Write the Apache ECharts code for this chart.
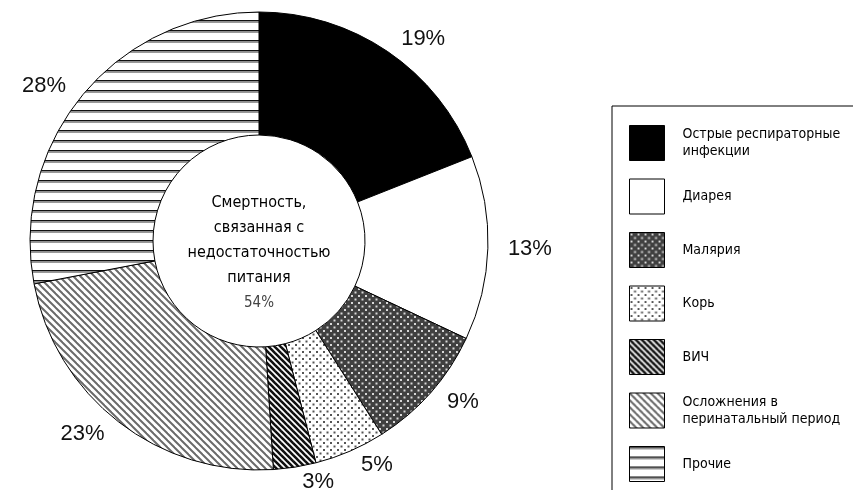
<!DOCTYPE html>
<html>
<head>
<meta charset="utf-8">
<script src="https://cdn.jsdelivr.net/npm/echarts@6/dist/echarts.min.js"></script>
<style>
  html, body { margin: 0; padding: 0; background: #fff; }
  #chart { width: 853px; height: 490px; }
</style>
</head>
<body>
<div id="chart"></div>
<script>
const causes = [
  "Острые респираторные\nинфекции",
  "Диарея",
  "Малярия",
  "Корь",
  "ВИЧ",
  "Осложнения в\nперинатальный период",
  "Прочие",
];
const shares = [19, 13, 9, 5, 3, 23, 28];
const centerLines = ["Смертность,", "связанная с", "недостаточностью", "питания"];
const centerShare = "54%";

const narrow = "'DejaVu Sans Condensed', 'Liberation Sans Narrow', 'Liberation Sans', sans-serif";
const cx = 259;
const cy = 241;

function tile(size, draw) {
  const canvas = document.createElement("canvas");
  canvas.width = size;
  canvas.height = size;
  const ctx = canvas.getContext("2d");
  draw(ctx, size);
  return { image: canvas, repeat: "repeat" };
}

function dots(bg, dot) {
  return tile(7, (ctx, p) => {
    ctx.fillStyle = bg;
    ctx.fillRect(0, 0, p, p);
    ctx.fillStyle = dot;
    ctx.fillRect(1, 1, 2, 2);
    ctx.fillRect(4.5, 4.5, 2, 2);
  });
}

function diagonal(size, color, width) {
  return tile(size, (ctx, p) => {
    ctx.fillStyle = "#fff";
    ctx.fillRect(0, 0, p, p);
    ctx.strokeStyle = color;
    ctx.lineWidth = width;
    for (let k = -1; k <= 1; k += 1) {
      ctx.beginPath();
      ctx.moveTo(k * p - 1, -1);
      ctx.lineTo(k * p + p + 1, p + 1);
      ctx.stroke();
    }
  });
}

const horizontal = tile(10, (ctx, p) => {
  ctx.fillStyle = "#fff";
  ctx.fillRect(0, 0, p, p);
  ctx.fillStyle = "#111";
  ctx.fillRect(0, 0, p, 1.5);
  ctx.fillStyle = "#999";
  ctx.fillRect(0, 1.5, p, 1.5);
});

const fills = [
  "#000",
  "#fff",
  dots("#404040", "#d8d8d8"),
  dots("#fff", "#555"),
  diagonal(6, "#111", 2.6),
  diagonal(7, "#6a6a6a", 2),
  horizontal,
];

const chart = echarts.init(document.getElementById("chart"), null, { renderer: "canvas" });

chart.setOption({
  animation: false,
  backgroundColor: "#fff",
  legend: {
    orient: "vertical",
    left: 629,
    top: 125,
    padding: 0,
    itemWidth: 35,
    itemHeight: 35,
    itemGap: 17.5,
    selectedMode: false,
    icon: "rect",
    itemStyle: { borderColor: "#000", borderWidth: 1 },
    textStyle: {
      fontFamily: narrow,
      fontSize: 14,
      lineHeight: 17,
      color: "#000",
      padding: [0, 0, 0, 13],
    },
    data: causes,
  },
  graphic: [
    {
      type: "rect",
      z: 0,
      shape: { x: 612, y: 106, width: 300, height: 420 },
      style: { fill: "none", stroke: "#000", lineWidth: 1 },
    },
    {
      type: "text",
      z: 10,
      x: cx,
      y: cy + 12,
      style: {
        text: centerLines.join("\n") + "\n{pct|" + centerShare + "}",
        align: "center",
        verticalAlign: "middle",
        fontFamily: narrow,
        fontSize: 16,
        lineHeight: 25,
        fill: "#000",
        rich: {
          pct: { fontFamily: narrow, fontSize: 15, lineHeight: 25, fill: "#444" },
        },
      },
    },
  ],
  series: [
    {
      type: "pie",
      center: [cx, cy],
      radius: [106, 229],
      startAngle: 90,
      clockwise: true,
      avoidLabelOverlap: false,
      itemStyle: { borderColor: "#000", borderWidth: 1 },
      emphasis: { disabled: true },
      label: {
        position: "outside",
        formatter: "{c}%",
        fontFamily: "'Liberation Sans', Arial, sans-serif",
        fontSize: 22,
        color: "#111",
      },
      labelLine: { show: false, length: 15, length2: 0 },
      data: causes.map((name, i) => ({
        name,
        value: shares[i],
        itemStyle: { color: fills[i] },
      })),
    },
  ],
});
</script>
</body>
</html>
